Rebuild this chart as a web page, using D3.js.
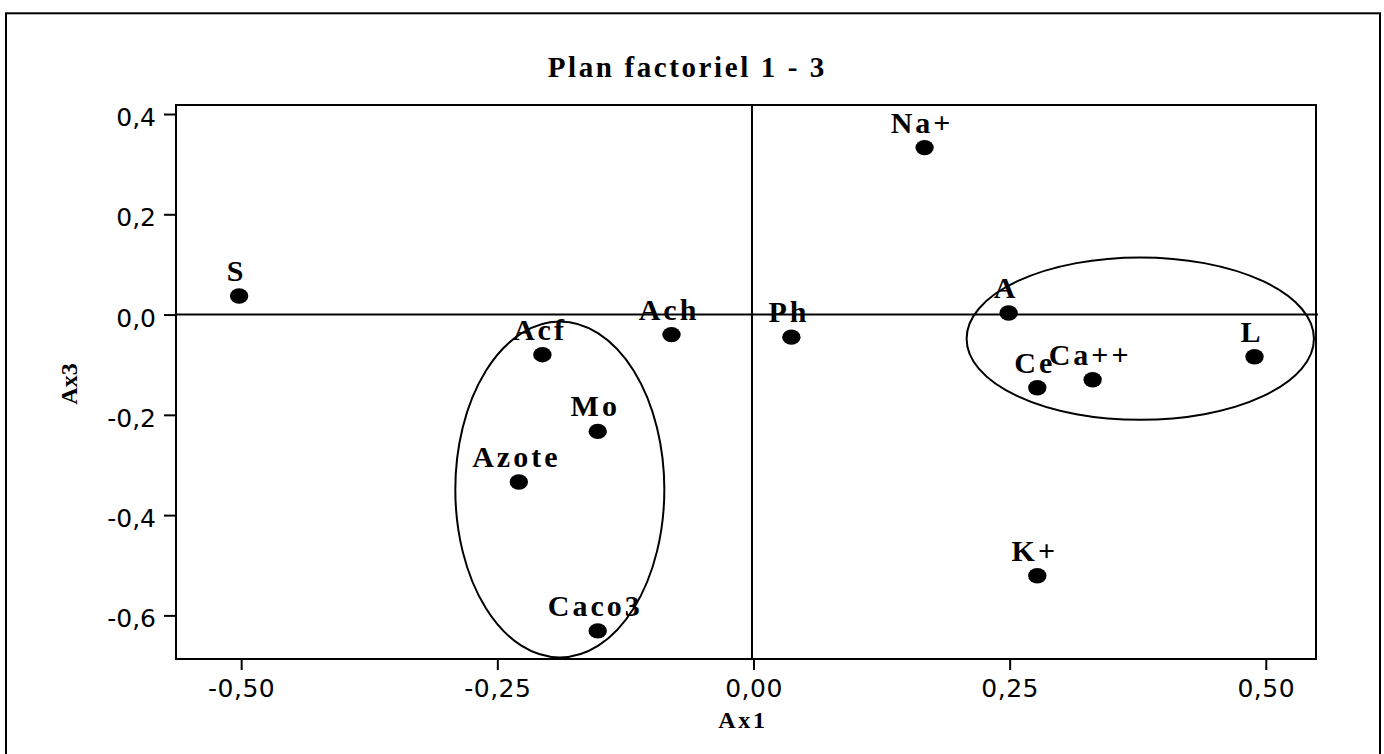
<!DOCTYPE html>
<html>
<head>
<meta charset="utf-8">
<script src="https://cdn.jsdelivr.net/npm/d3@7"></script>
<style>
  html, body { margin: 0; padding: 0; background: #fff; }
  svg { display: block; }
</style>
</head>
<body>
<svg id="chart" width="1384" height="754"></svg>
<script>
// Variables projected on factorial plane (axis 1 vs axis 3)
const names = ["S", "Acf", "Ach", "Ph", "Na+", "Mo", "Azote", "Caco3", "A", "Ce", "Ca++", "L", "K+"];
const ax1   = [-0.502, -0.206, -0.080, 0.037, 0.167, -0.152, -0.229, -0.152, 0.249, 0.277, 0.331, 0.489, 0.277];
const ax3   = [ 0.037, -0.080, -0.040, -0.045, 0.333, -0.233, -0.334, -0.631, 0.003, -0.146, -0.130, -0.084, -0.521];

// Grouping ellipses: centre (ax1, ax3) and radii in axis units
const groupCx = [-0.189, 0.3775];
const groupCy = [-0.349, -0.048];
const groupRx = [0.102, 0.1695];
const groupRy = [0.335, 0.162];

// Axis extents and ticks
const xDomain = [-0.5636, 0.549];
const yDomain = [-0.687, 0.418];
const xTicks = [-0.5, -0.25, 0, 0.25, 0.5];
const xTickLabels = ["-0,50", "-0,25", "0,00", "0,25", "0,50"];
const yTicks = [0.4, 0.2, 0, -0.2, -0.4, -0.6];
const yTickLabels = ["0,4", "0,2", "0,0", "-0,2", "-0,4", "-0,6"];

const titleText = "Plan factoriel 1 - 3";
const xTitle = "Ax1";
const yTitle = "Ax3";

const serif = "'Liberation Serif', 'Times New Roman', serif";
const sans = "'DejaVu Sans', Verdana, sans-serif";

const svg = d3.select("#chart");
const plot = { left: 176, right: 1316, top: 105, bottom: 659 };

const x = d3.scaleLinear().domain(xDomain).range([plot.left, plot.right]);
const y = d3.scaleLinear().domain(yDomain).range([plot.bottom, plot.top]);

// Outer frame (open at the bottom edge of the page)
svg.append("rect")
  .attr("x", 6).attr("y", 13.3)
  .attr("width", 1374).attr("height", 800)
  .attr("fill", "none").attr("stroke", "#000").attr("stroke-width", 2);

// Title
svg.append("text")
  .attr("x", 687.3).attr("y", 76.7)
  .attr("text-anchor", "middle")
  .attr("font-family", serif).attr("font-weight", "bold")
  .attr("font-size", 29).attr("letter-spacing", 2.6)
  .text(titleText);

// Plot frame
svg.append("rect")
  .attr("x", plot.left).attr("y", plot.top)
  .attr("width", plot.right - plot.left).attr("height", plot.bottom - plot.top)
  .attr("fill", "none").attr("stroke", "#000").attr("stroke-width", 2);

// Zero lines
svg.append("line")
  .attr("x1", plot.left).attr("x2", plot.right + 2)
  .attr("y1", y(0)).attr("y2", y(0))
  .attr("stroke", "#000").attr("stroke-width", 2);
svg.append("line")
  .attr("x1", x(0) - 1.5).attr("x2", x(0) - 1.5)
  .attr("y1", plot.top).attr("y2", plot.bottom)
  .attr("stroke", "#000").attr("stroke-width", 2);

// Axes
const xAxis = d3.axisBottom(x)
  .tickValues(xTicks)
  .tickFormat((d, i) => xTickLabels[i])
  .tickSize(11).tickSizeOuter(0);
const gx = svg.append("g")
  .attr("transform", `translate(0,${plot.bottom})`)
  .call(xAxis);
gx.select(".domain").remove();
gx.selectAll(".tick line").attr("stroke", "#000").attr("stroke-width", 2);
gx.selectAll(".tick text")
  .attr("y", 37.7).attr("dy", null)
  .attr("font-family", sans).attr("font-size", 25)
  .attr("letter-spacing", 0.5)
  .attr("fill", "#000");

const yAxis = d3.axisLeft(y)
  .tickValues(yTicks)
  .tickFormat((d, i) => yTickLabels[i])
  .tickSize(12).tickSizeOuter(0);
const gy = svg.append("g")
  .attr("transform", `translate(${plot.left},0)`)
  .call(yAxis);
gy.select(".domain").remove();
gy.selectAll(".tick line").attr("stroke", "#000").attr("stroke-width", 2);
gy.selectAll(".tick text")
  .attr("x", -20).attr("y", 11.5).attr("dy", null)
  .attr("font-family", sans).attr("font-size", 25)
  .attr("fill", "#000");

// Axis titles
svg.append("text")
  .attr("x", 743).attr("y", 727.7)
  .attr("text-anchor", "middle")
  .attr("font-family", serif).attr("font-weight", "bold")
  .attr("font-size", 24).attr("letter-spacing", 2.7)
  .text(xTitle);
svg.append("text")
  .attr("transform", "translate(76.5,384) rotate(-90)")
  .attr("text-anchor", "middle")
  .attr("font-family", serif).attr("font-weight", "bold")
  .attr("font-size", 24)
  .text(yTitle);

// Grouping ellipses
svg.append("g").selectAll("ellipse")
  .data(groupCx.map((cx, i) => ({ cx, cy: groupCy[i], rx: groupRx[i], ry: groupRy[i] })))
  .join("ellipse")
  .attr("cx", d => x(d.cx))
  .attr("cy", d => y(d.cy))
  .attr("rx", d => x(d.rx) - x(0))
  .attr("ry", d => y(0) - y(d.ry))
  .attr("fill", "none").attr("stroke", "#000").attr("stroke-width", 2);

// Points and their names
const pts = names.map((n, i) => ({ name: n, x: ax1[i], y: ax3[i] }));

svg.append("g").selectAll("ellipse")
  .data(pts)
  .join("ellipse")
  .attr("cx", d => x(d.x))
  .attr("cy", d => y(d.y))
  .attr("rx", 9.2).attr("ry", 7.7)
  .attr("fill", "#000");

svg.append("g").selectAll("text")
  .data(pts)
  .join("text")
  .attr("x", d => x(d.x) - 2.5)
  .attr("y", d => y(d.y) - 15)
  .attr("text-anchor", "middle")
  .attr("font-family", serif).attr("font-weight", "bold")
  .attr("font-size", 30).attr("letter-spacing", 3)
  .attr("fill", "#000")
  .text(d => d.name);
</script>
</body>
</html>
